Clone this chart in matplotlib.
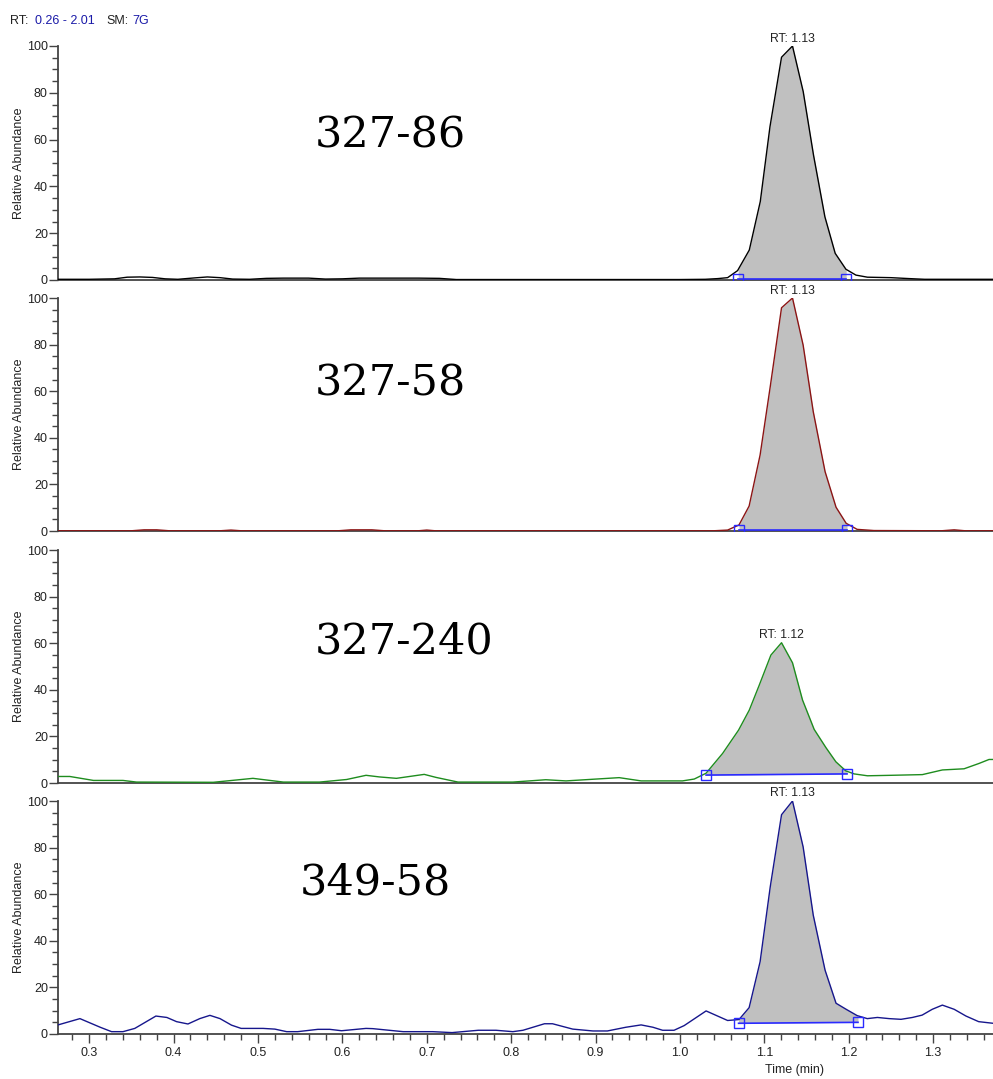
import matplotlib
matplotlib.use("Agg")
import matplotlib.pyplot as plt
from matplotlib.ticker import MultipleLocator, FixedLocator
import numpy as np

# ---------------- data ----------------
t1 = [0.263, 0.30, 0.33, 0.345, 0.36, 0.375, 0.39, 0.405, 0.425, 0.44, 0.455, 0.47, 0.49, 0.51,
      0.53, 0.56, 0.58, 0.60, 0.62, 0.65, 0.69, 0.715, 0.735, 0.80, 0.90, 1.00, 1.03, 1.045,
      1.0565, 1.0683, 1.0822, 1.0952, 1.1067, 1.1204, 1.1334, 1.1461, 1.1583, 1.1718, 1.1840,
      1.1967, 1.2085, 1.2222, 1.25, 1.2716, 1.29, 1.371]
v1 = [0.3, 0.3, 0.5, 1.2, 1.3, 1.1, 0.5, 0.3, 0.9, 1.3, 1.0, 0.4, 0.3, 0.7,
      0.8, 0.8, 0.4, 0.5, 0.8, 0.8, 0.8, 0.7, 0.2, 0.2, 0.2, 0.2, 0.3, 0.6,
      1.0, 4.0, 12.8, 33.5, 65.5, 95.2, 100.0, 80.5, 53.4, 27.0, 11.4,
      4.6, 2.1, 1.2, 1.0, 0.6, 0.3, 0.3]

t2 = [0.263, 0.35, 0.365, 0.38, 0.395, 0.455, 0.468, 0.48, 0.595, 0.61, 0.635, 0.65, 0.69, 0.70,
      0.71, 1.04, 1.0565, 1.070, 1.082, 1.095, 1.107, 1.1204, 1.1334, 1.146, 1.158, 1.172, 1.185,
      1.197, 1.21, 1.23, 1.31, 1.325, 1.338, 1.371]
v2 = [0.1, 0.1, 0.5, 0.5, 0.1, 0.1, 0.4, 0.1, 0.1, 0.5, 0.5, 0.1, 0.1, 0.4,
      0.1, 0.1, 0.4, 2.6, 10.7, 32.6, 61.9, 95.8, 100.0, 79.8, 51.2, 25.5, 10.2,
      3.3, 0.7, 0.2, 0.1, 0.5, 0.1, 0.1]

t3 = [0.263, 0.277, 0.305, 0.340, 0.356, 0.447, 0.494, 0.530, 0.573, 0.605, 0.628, 0.644, 0.664,
      0.697, 0.711, 0.737, 0.802, 0.841, 0.865, 0.928, 0.954, 1.003, 1.017, 1.031, 1.0506, 1.0695,
      1.0822, 1.094, 1.1078, 1.1204, 1.1334, 1.1453, 1.1591, 1.173, 1.1848, 1.1966, 1.2065,
      1.2222, 1.25, 1.2873, 1.311, 1.3367, 1.3545, 1.3663, 1.371]
v3 = [2.8, 2.8, 1.1, 1.1, 0.4, 0.3, 2.0, 0.4, 0.4, 1.5, 3.3, 2.6, 2.0,
      3.7, 2.4, 0.4, 0.4, 1.4, 0.9, 2.3, 0.9, 0.9, 1.7, 4.2, 12.7, 22.7,
      31.3, 42.0, 54.9, 60.2, 51.6, 35.6, 23.0, 15.2, 9.1, 5.2, 3.9,
      3.1, 3.3, 3.6, 5.6, 6.1, 8.4, 10.1, 10.1]

t4 = [0.263, 0.289, 0.313, 0.3265, 0.340, 0.354, 0.379, 0.392, 0.4035, 0.417, 0.431, 0.443, 0.455,
      0.4686, 0.480, 0.506, 0.520, 0.534, 0.547, 0.571, 0.585, 0.599, 0.628, 0.636, 0.672, 0.707,
      0.730, 0.761, 0.782, 0.802, 0.814, 0.8395, 0.849, 0.873, 0.897, 0.914, 0.936, 0.954, 0.968,
      0.9795, 0.993, 1.005, 1.031, 1.0565, 1.070, 1.082, 1.095, 1.107, 1.1204, 1.1334, 1.146,
      1.158, 1.172, 1.185, 1.197, 1.210, 1.222, 1.234, 1.248, 1.262, 1.2755, 1.287, 1.299, 1.311,
      1.325, 1.339, 1.354, 1.371]
v4 = [3.9, 6.6, 2.9, 1.0, 1.0, 2.4, 7.7, 7.1, 5.3, 4.3, 6.6, 8.0, 6.6,
      3.8, 2.4, 2.4, 2.1, 1.0, 1.0, 2.0, 2.0, 1.4, 2.4, 2.3, 1.0, 1.0,
      0.6, 1.6, 1.6, 1.0, 1.6, 4.4, 4.4, 2.1, 1.3, 1.3, 2.9, 3.9, 2.9,
      1.6, 1.6, 3.6, 9.9, 5.8, 6.2, 11.3, 31.0, 63.1, 94.1, 100.0, 80.3,
      51.0, 27.4, 13.2, 10.6, 7.9, 6.6, 7.1, 6.6, 6.3, 7.1, 8.1, 10.6, 12.4,
      10.6, 7.7, 5.3, 4.6]

# integration baseline end points (time, abundance)
base_t = [(1.069, 1.197), (1.070, 1.198), (1.031, 1.198), (1.0695, 1.211)]
base_v = [(0.5, 0.5), (0.5, 0.5), (3.4, 3.9), (4.6, 5.0)]

apex_t = [1.1334, 1.1334, 1.1204, 1.1334]
apex_v = [100.0, 100.0, 60.2, 100.0]
rt_labels = ["RT: 1.13", "RT: 1.13", "RT: 1.12", "RT: 1.13"]
names = ["327-86", "327-58", "327-240", "349-58"]
name_pos = [(0.567, 56.6), (0.567, 58.2), (0.567, 55.6), (0.5495, 59.9)]

colors = ["#000000", "#8B1414", "#1E8C1E", "#16168C"]
traces_t = [t1, t2, t3, t4]
traces_v = [v1, v2, v3, v4]

# ---------------- figure ----------------
W, H = 993, 1079
fig = plt.figure(figsize=(W / 100, H / 100), dpi=100)
plt.rcParams['font.family'] = ['Liberation Sans', 'DejaVu Sans']

left = 58 / W
width = 1 - left
panel_px = [(46, 280), (298, 531), (550, 783), (801, 1034)]
blue = "#2a2aff"
spine_col = "#444444"

for i in range(4):
    top, bot = panel_px[i]
    ax = fig.add_axes([left, 1 - bot / H, width, (bot - top) / H])
    t = np.array(traces_t[i]); v = np.array(traces_v[i])
    ax.set_xlim(0.263, 1.371)
    ax.set_ylim(0, 100)

    # fill between trace and integration baseline
    ta, tb = base_t[i]
    va_, vb_ = base_v[i]
    inner = t[(t > ta) & (t < tb)]
    xs = np.concatenate([[ta], inner, [tb]])
    ys = np.interp(xs, t, v)
    bl = va_ + (xs - ta) / (tb - ta) * (vb_ - va_)
    ax.fill_between(xs, bl, ys, color="#C0C0C0", linewidth=0, zorder=1)

    ax.plot(t, v, color=colors[i], lw=1.0, zorder=3)
    ax.plot([ta, tb], [va_, vb_], color=blue, lw=1.2, zorder=4)
    ax.plot([ta, tb], [va_, vb_], ls='none', marker='s', ms=7, mfc='none',
            mec=blue, mew=1.0, zorder=5)

    ax.annotate(rt_labels[i], xy=(apex_t[i], apex_v[i]), xytext=(0, 4.5),
                textcoords='offset pixels', ha='center', va='baseline',
                fontsize=8.8, color='#222222', annotation_clip=False)

    ax.text(name_pos[i][0], name_pos[i][1], names[i], family='DejaVu Serif',
            fontsize=31, ha='left', va='baseline', color='black')

    for s in ['top', 'right']:
        ax.spines[s].set_visible(False)
    for s in ['left', 'bottom']:
        ax.spines[s].set_color(spine_col)
        ax.spines[s].set_linewidth(1.3)

    ax.yaxis.set_major_locator(FixedLocator([0, 20, 40, 60, 80, 100]))
    ax.yaxis.set_minor_locator(MultipleLocator(5))
    ax.tick_params(axis='y', which='major', length=6.5, width=1.0, pad=0.8,
                   labelsize=9, colors=spine_col, labelcolor='#222222')
    ax.tick_params(axis='y', which='minor', length=4.0, width=1.0, colors=spine_col)

    ax.text(-0.0412, 0.5, "Relative Abundance", transform=ax.transAxes, rotation=90,
            ha='center', va='center', fontsize=9, color='#222222')

    if i == 3:
        ax.xaxis.set_major_locator(MultipleLocator(0.1))
        ax.xaxis.set_minor_locator(MultipleLocator(0.02))
        ax.xaxis.set_major_formatter(plt.FuncFormatter(lambda x, p: f"{x:.1f}"))
        ax.tick_params(axis='x', which='major', length=6.5, width=1.0, pad=2.5,
                       labelsize=9, colors=spine_col, labelcolor='#222222')
        ax.tick_params(axis='x', which='minor', length=4.5, width=1.0, colors=spine_col)
    else:
        ax.tick_params(axis='x', which='both', length=0, labelbottom=False)

# header text
y_head = 1 - 24 / H
fig.text(10 / W, y_head, "RT:", fontsize=9, color='#222222', va='baseline')
fig.text(35 / W, y_head, "0.26 - 2.01", fontsize=9, color='#1a1aa8', va='baseline')
fig.text(106 / W, y_head, "SM:", fontsize=9, color='#222222', va='baseline')
fig.text(132 / W, y_head, "7G", fontsize=9, color='#1a1aa8', va='baseline')

fig.text(794.5 / W, 1 - 1070 / H, "Time (min)", fontsize=9, color='#222222',
         ha='center', va='center')

fig.savefig("out.png", dpi=100)
